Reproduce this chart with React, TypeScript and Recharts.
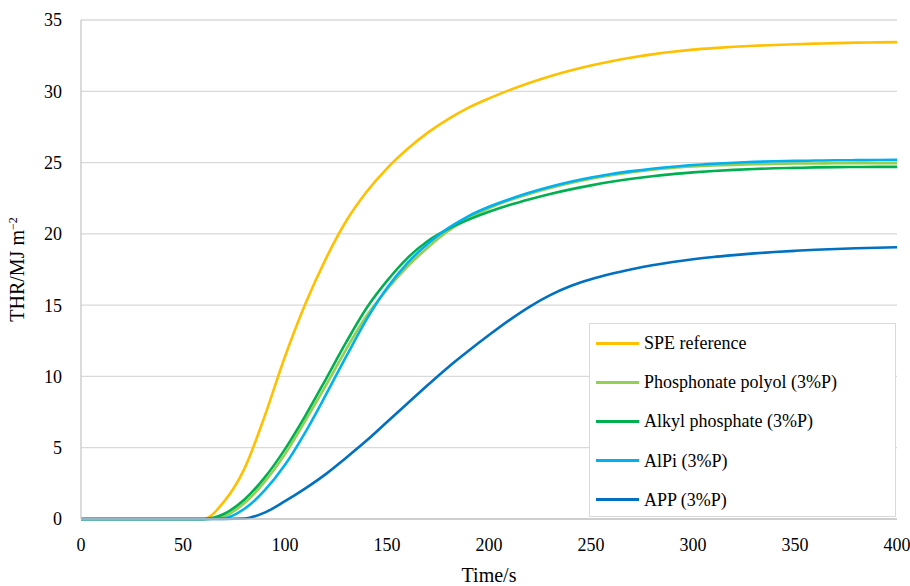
import React from 'react';
import { LineChart, Line, XAxis, YAxis, CartesianGrid, Legend } from 'recharts';

const times = [0, 10, 20, 30, 40, 50, 60, 70, 80, 90, 100, 110, 120, 130, 140, 150, 160, 170, 180, 190, 200, 210, 220, 230, 240, 250, 260, 270, 280, 290, 300, 310, 320, 330, 340, 350, 360, 370, 380, 390, 400];

const speReference = [0, 0, 0, 0, 0, 0, 0, 1.2, 3.5, 7.2, 11.4, 15.1, 18.25, 20.9, 22.95, 24.6, 25.95, 27.1, 28.05, 28.85, 29.5, 30.08, 30.6, 31.06, 31.46, 31.81, 32.11, 32.37, 32.59, 32.77, 32.92, 33.03, 33.12, 33.19, 33.25, 33.3, 33.34, 33.38, 33.41, 33.43, 33.45];

const phosphonatePolyol = [0, 0, 0, 0, 0, 0, 0, 0.2, 1.1, 2.6, 4.55, 6.9, 9.35, 11.9, 14.25, 16.1, 17.7, 19.05, 20.2, 21.1, 21.8, 22.35, 22.82, 23.22, 23.57, 23.87, 24.12, 24.33, 24.5, 24.63, 24.72, 24.79, 24.84, 24.88, 24.91, 24.93, 24.94, 24.95, 24.96, 24.96, 24.96];

const alkylPhosphate = [0, 0, 0, 0, 0, 0, 0, 0.35, 1.35, 2.9, 4.9, 7.25, 9.8, 12.4, 14.8, 16.7, 18.3, 19.5, 20.35, 21.0, 21.55, 22.02, 22.43, 22.8, 23.12, 23.4, 23.65, 23.86, 24.04, 24.19, 24.31, 24.41, 24.49, 24.55, 24.6, 24.63, 24.66, 24.68, 24.69, 24.7, 24.7];

const alpi = [0, 0, 0, 0, 0, 0, 0, 0.05, 0.7, 2.0, 3.8, 6.1, 8.7, 11.4, 14.0, 16.2, 17.95, 19.3, 20.4, 21.25, 21.9, 22.43, 22.9, 23.3, 23.65, 23.95, 24.2, 24.4, 24.57, 24.71, 24.83, 24.92, 24.99, 25.05, 25.09, 25.12, 25.14, 25.16, 25.17, 25.18, 25.19];

const app = [0, 0, 0, 0, 0, 0, 0, 0, 0.03, 0.45, 1.25, 2.15, 3.15, 4.3, 5.5, 6.8, 8.1, 9.4, 10.65, 11.8, 12.9, 13.95, 14.9, 15.7, 16.34, 16.82, 17.2, 17.52, 17.8, 18.03, 18.22, 18.38, 18.51, 18.63, 18.73, 18.81, 18.88, 18.94, 18.99, 19.03, 19.06];

const xTicks = [0, 50, 100, 150, 200, 250, 300, 350, 400];
const yTicks = [0, 5, 10, 15, 20, 25, 30, 35];

const seriesNames = ['SPE reference', 'Phosphonate polyol (3%P)', 'Alkyl phosphate (3%P)', 'AlPi (3%P)', 'APP (3%P)'];
const seriesKeys = ['spe', 'phos', 'alkyl', 'alpi', 'app'];
const seriesColors = ['#FFC000', '#92D050', '#00B050', '#00B0F0', '#0070C0'];

const data = times.map((t, i) => ({
  t,
  spe: speReference[i],
  phos: phosphonatePolyol[i],
  alkyl: alkylPhosphate[i],
  alpi: alpi[i],
  app: app[i],
}));

const FONT = '"Liberation Serif", "DejaVu Serif", serif';

const renderLegend = (props: any) => {
  const payload = [...(props.payload || [])].sort(
    (a: any, b: any) => seriesNames.indexOf(a.value) - seriesNames.indexOf(b.value)
  );
  return (
    <div
      style={{
        width: 307,
        height: 194,
        boxSizing: 'border-box',
        border: '1px solid #d9d9d9',
        background: '#ffffff',
        position: 'relative',
        fontFamily: FONT,
        fontSize: 18,
        color: '#000',
      }}
    >
      {payload.map((entry: any, i: number) => (
        <div
          key={entry.value}
          style={{
            position: 'absolute',
            left: 6,
            top: 19 + i * 39.2 - 11,
            height: 22,
            display: 'flex',
            alignItems: 'center',
            whiteSpace: 'nowrap',
          }}
        >
          <div style={{ width: 43, height: 3, background: entry.color }} />
          <span style={{ marginLeft: 5, lineHeight: '22px' }}>{entry.value}</span>
        </div>
      ))}
    </div>
  );
};

const xLabel = (props: any) => {
  const vb = props.viewBox || {};
  return (
    <text
      x={vb.x + vb.width / 2}
      y={vb.y + vb.height - 4}
      textAnchor="middle"
      fontFamily={FONT}
      fontSize={20}
      fill="#000"
    >
      Time/s
    </text>
  );
};

const yLabel = (props: any) => {
  const vb = props.viewBox || {};
  const cx = 24;
  const cy = vb.y + vb.height / 2;
  return (
    <text
      x={cx}
      y={cy}
      transform={`rotate(-90, ${cx}, ${cy})`}
      textAnchor="middle"
      fontFamily={FONT}
      fontSize={20}
      fill="#000"
    >
      THR/MJ m
      <tspan fontSize={12} dy={-7}>
        −2
      </tspan>
    </text>
  );
};

export default function App() {
  return (
    <div style={{ position: 'absolute', left: 0, top: 0, width: 910, height: 586, background: '#fff', fontFamily: FONT }}>
      <LineChart
        width={910}
        height={586}
        data={data}
        margin={{ top: 20, right: 13, bottom: 0, left: 0 }}
      >
        <CartesianGrid horizontal={true} vertical={false} stroke="#d9d9d9" strokeWidth={1.3} />
        <XAxis
          dataKey="t"
          type="number"
          domain={[0, 400]}
          ticks={xTicks}
          height={67}
          tickLine={false}
          tickSize={0}
          tickMargin={19}
          axisLine={{ stroke: '#c8c8c8', strokeWidth: 1.3 }}
          tick={{ fontFamily: FONT, fontSize: 18, fill: '#000' }}
          interval={0}
          label={xLabel}
        />
        <YAxis
          type="number"
          domain={[0, 35]}
          ticks={yTicks}
          width={81}
          tickLine={false}
          tickSize={0}
          tickMargin={19}
          axisLine={{ stroke: '#c8c8c8', strokeWidth: 1.3 }}
          tick={{ fontFamily: FONT, fontSize: 18, fill: '#000' }}
          interval={0}
          label={yLabel}
        />
        <Legend
          layout="vertical"
          align="center"
          verticalAlign="middle"
          content={renderLegend}
          wrapperStyle={{ left: 589, top: 323, width: 307, height: 194 }}
        />
        {seriesKeys.map((k, i) => (
          <Line
            key={k}
            dataKey={k}
            name={seriesNames[i]}
            type="monotone"
            stroke={seriesColors[i]}
            strokeWidth={2.6}
            dot={false}
            activeDot={false}
            isAnimationActive={false}
          />
        ))}
      </LineChart>
    </div>
  );
}
